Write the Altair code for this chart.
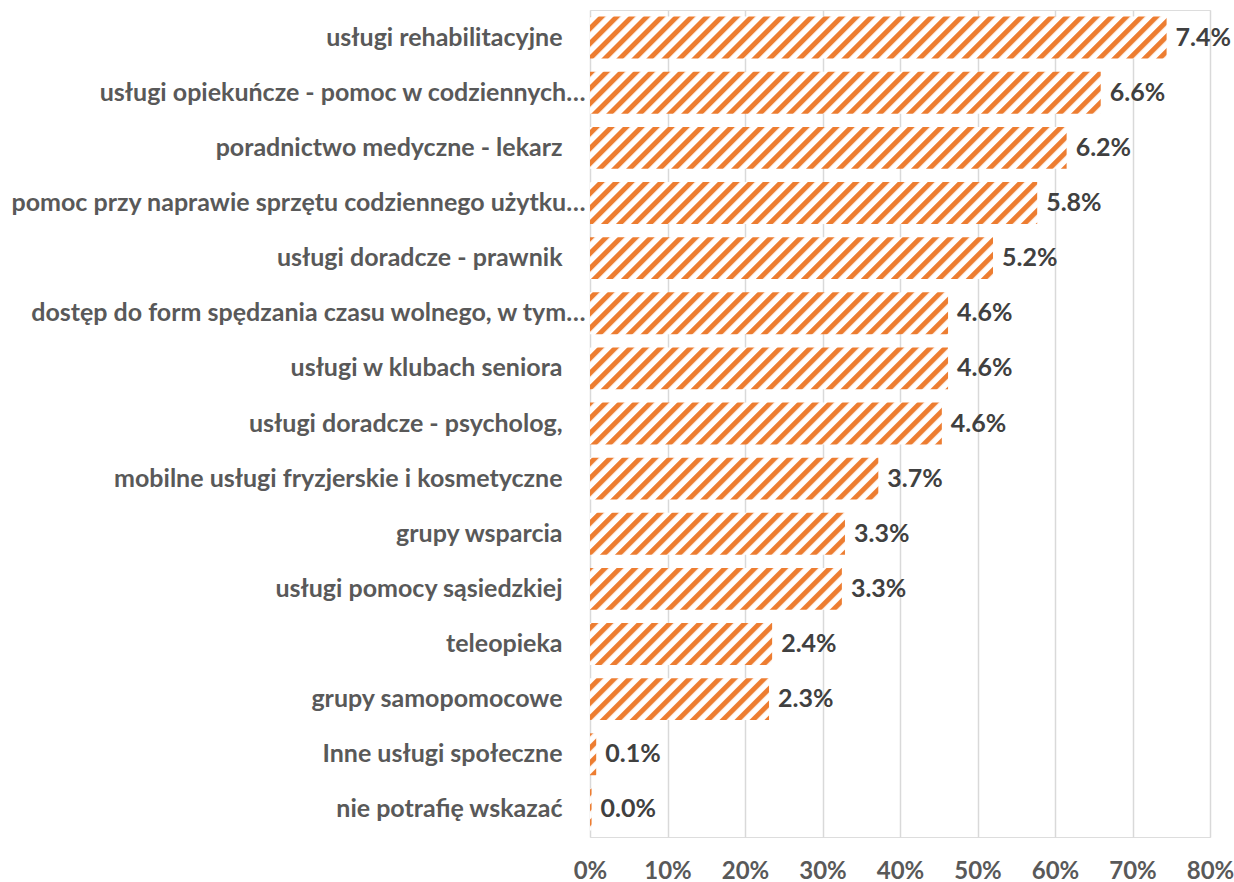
import altair as alt
import pandas as pd

categories = [
    "usługi rehabilitacyjne",
    "usługi opiekuńcze - pomoc w codziennych…",
    "poradnictwo medyczne - lekarz",
    "pomoc przy naprawie sprzętu codziennego użytku…",
    "usługi doradcze - prawnik",
    "dostęp do form spędzania czasu wolnego, w tym…",
    "usługi w klubach seniora",
    "usługi doradcze - psycholog,",
    "mobilne usługi fryzjerskie i kosmetyczne",
    "grupy wsparcia",
    "usługi pomocy sąsiedzkiej",
    "teleopieka",
    "grupy samopomocowe",
    "Inne usługi społeczne",
    "nie potrafię wskazać",
]
bar_values = [74.4, 65.9, 61.5, 57.7, 52.0, 46.2, 46.2, 45.4, 37.2, 32.9, 32.5, 23.5, 23.1, 0.8, 0.2]
value_labels = ["7.4%", "6.6%", "6.2%", "5.8%", "5.2%", "4.6%", "4.6%", "4.6%",
                "3.7%", "3.3%", "3.3%", "2.4%", "2.3%", "0.1%", "0.0%"]
x_ticks = [0, 10, 20, 30, 40, 50, 60, 70, 80]

df = pd.DataFrame({"cat": categories, "val": bar_values, "lab": value_labels})

FONT = "Lato"

y_enc = alt.Y(
    "cat:N",
    sort=None,
    title=None,
    scale=alt.Scale(paddingInner=0.24, paddingOuter=0.12),
    axis=alt.Axis(
        domain=False,
        ticks=False,
        grid=False,
        labelFont=FONT,
        labelFontWeight="bold",
        labelFontSize=25,
        labelColor="#595959",
        labelLimit=700,
        labelPadding={"condition": {"test": "indexof(datum.value, '…') >= 0", "value": 5}, "value": 28},
    ),
)

x_enc = alt.X(
    "val:Q",
    title=None,
    scale=alt.Scale(domain=[0, 80], nice=False),
    axis=alt.Axis(
        values=x_ticks,
        labelExpr="datum.value + '%'",
        labelFlush=False,
        labelOverlap=False,
        labelBaseline="alphabetic",
        domain=False,
        ticks=False,
        grid=True,
        gridColor="#D9D9D9",
        gridWidth=1.5,
        labelFont=FONT,
        labelFontWeight="bold",
        labelFontSize=24,
        labelColor="#595959",
        labelPadding=41,
    ),
)

bars = alt.Chart(df).mark_bar(color="url(#hatch)").encode(y=y_enc, x=x_enc)

texts = alt.Chart(df).mark_text(
    align="left", baseline="middle", dx=9,
    font=FONT, fontWeight="bold", fontSize=25, color="#404040"
).encode(y=alt.Y("cat:N", sort=None), x="val:Q", text="lab:N")

chart = (bars + texts).properties(
    width=620,
    height=827,
    autosize=alt.AutoSizeParams(type="none"),
    padding={"left": 582, "top": 2, "right": 24, "bottom": 45},
).configure_view(stroke=None).configure(background="white")

chart.save("out.html", embed_options={"renderer": "svg", "actions": False})

# add the diagonal hatch pattern used by the bars (SVG renderer references it by id)
pattern = (
    '<style>html,body{overflow:hidden} body{margin:8px 0 0 8px}</style>'
    '<svg width="0" height="0" style="position:absolute"><defs>'
    '<pattern id="hatch" patternUnits="userSpaceOnUse" width="10.6" height="10.6" '
    'patternTransform="rotate(45)">'
    '<rect width="10.6" height="10.6" fill="#ffffff"/>'
    '<rect width="5" height="10.6" fill="#ED7D31"/>'
    '</pattern></defs></svg>'
)
with open("out.html", encoding="utf-8") as f:
    html = f.read()
html = html.replace("<body>", "<body>" + pattern, 1)
with open("out.html", "w", encoding="utf-8") as f:
    f.write(html)
